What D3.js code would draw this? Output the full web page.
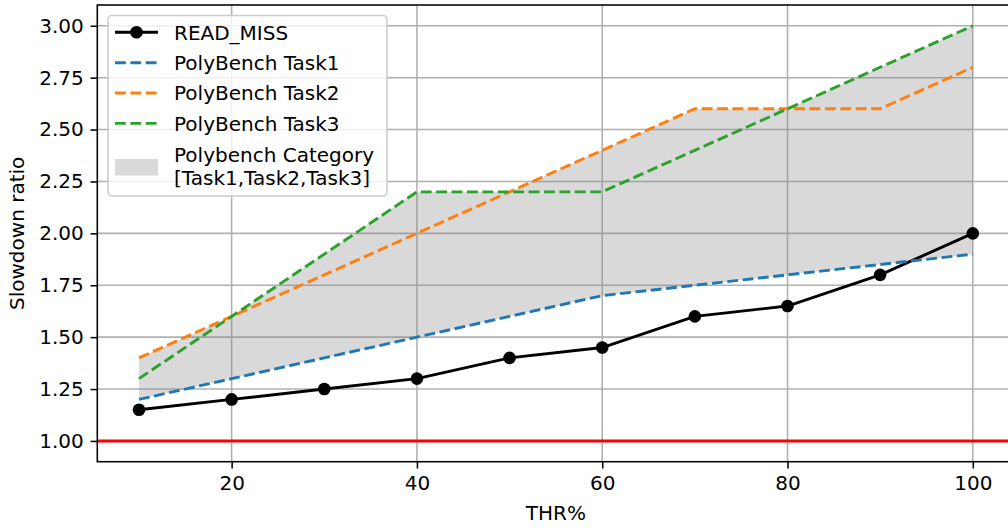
<!DOCTYPE html>
<html>
<head>
<meta charset="utf-8">
<script src="https://cdn.jsdelivr.net/npm/d3@7"></script>
<style>
  body { margin: 0; background: #fff; }
  svg { display: block; font-family: "DejaVu Sans", sans-serif; }
</style>
</head>
<body>
<svg id="chart"></svg>
<script>
// data
var thr = [10, 20, 30, 40, 50, 60, 70, 80, 90, 100];
var readMiss = [1.15, 1.20, 1.25, 1.30, 1.40, 1.45, 1.60, 1.65, 1.80, 2.00];
var task1 = [1.20, 1.30, 1.40, 1.50, 1.60, 1.70, 1.75, 1.80, 1.85, 1.90];
var task2 = [1.40, 1.60, 1.80, 2.00, 2.20, 2.40, 2.60, 2.60, 2.60, 2.80];
var task3 = [1.30, 1.60, 1.90, 2.20, 2.20, 2.20, 2.40, 2.60, 2.80, 3.00];
var xTicks = [20, 40, 60, 80, 100];
var yTicks = [1.00, 1.25, 1.50, 1.75, 2.00, 2.25, 2.50, 2.75, 3.00];

//UI configuration (note: "top" is taken by window.top, so use a margin object)
var width = 1008, height = 528,
    box = { left: 97.3, right: 1014.5, top: 5, bottom: 461.7 },
    fs = 20;

var svg = d3.select('#chart').attr('width', width).attr('height', height);

var x = d3.scaleLinear().domain([5.5, 104.5]).range([box.left, box.right]);
var y = d3.scaleLinear().domain([0.9, 3.1]).range([box.bottom, box.top]);

svg.append('clipPath').attr('id', 'clip')
    .append('rect').attr('x', box.left).attr('y', box.top)
    .attr('width', box.right - box.left).attr('height', box.bottom - box.top);

var plot = svg.append('g').attr('clip-path', 'url(#clip)');

// grid
plot.selectAll('.gx').data(xTicks).enter().append('line')
    .attr('x1', function (d) { return x(d); }).attr('x2', function (d) { return x(d); })
    .attr('y1', box.top).attr('y2', box.bottom)
    .attr('stroke', '#b0b0b0').attr('stroke-width', 1.55);
plot.selectAll('.gy').data(yTicks).enter().append('line')
    .attr('y1', function (d) { return y(d); }).attr('y2', function (d) { return y(d); })
    .attr('x1', box.left).attr('x2', box.right)
    .attr('stroke', '#b0b0b0').attr('stroke-width', 1.55);

// category band
var band = thr.map(function (t, i) {
    var v = [task1[i], task2[i], task3[i]];
    return { x: t, lo: d3.min(v), hi: d3.max(v) };
});
plot.append('path').datum(band)
    .attr('d', d3.area().x(function (d) { return x(d.x); })
        .y0(function (d) { return y(d.lo); }).y1(function (d) { return y(d.hi); }))
    .attr('fill', 'gray').attr('fill-opacity', 0.3);

// baseline
plot.append('line').attr('x1', box.left).attr('x2', box.right)
    .attr('y1', y(1)).attr('y2', y(1))
    .attr('stroke', '#ff0000').attr('stroke-width', 2.9);

var line = d3.line().x(function (d, i) { return x(thr[i]); }).y(function (d) { return y(d); });
var series = [
    { name: 'PolyBench Task1', values: task1, color: '#1f77b4' },
    { name: 'PolyBench Task2', values: task2, color: '#ff7f0e' },
    { name: 'PolyBench Task3', values: task3, color: '#2ca02c' }
];

plot.append('path').datum(readMiss).attr('d', line)
    .attr('fill', 'none').attr('stroke', '#000').attr('stroke-width', 2.9);
series.forEach(function (s) {
    plot.append('path').datum(s.values).attr('d', line)
        .attr('fill', 'none').attr('stroke', s.color).attr('stroke-width', 2.9)
        .attr('stroke-dasharray', '10.8,4.6');
});
plot.selectAll('.dot').data(readMiss).enter().append('circle')
    .attr('cx', function (d, i) { return x(thr[i]); })
    .attr('cy', function (d) { return y(d); })
    .attr('r', 6.3).attr('fill', '#000');

// axes
var xAxis = svg.append('g').attr('transform', 'translate(0,' + box.bottom + ')')
    .call(d3.axisBottom(x).tickValues(xTicks).tickSize(6.8).tickPadding(7.5).tickFormat(d3.format('d')));
var yAxis = svg.append('g').attr('transform', 'translate(' + box.left + ',0)')
    .call(d3.axisLeft(y).tickValues(yTicks).tickSize(6.8).tickPadding(6.8).tickFormat(d3.format('.2f')));
[xAxis, yAxis].forEach(function (a) {
    a.select('.domain').remove();
    a.selectAll('line').attr('stroke', '#000').attr('stroke-width', 1.55);
    a.selectAll('text').attr('font-size', fs).attr('font-family', 'DejaVu Sans').attr('fill', '#000');
});

// spines
svg.append('rect').attr('x', box.left).attr('y', box.top)
    .attr('width', box.right - box.left).attr('height', box.bottom - box.top)
    .attr('fill', 'none').attr('stroke', '#000').attr('stroke-width', 1.55);

// labels
svg.append('text').attr('x', (box.left + box.right) / 2).attr('y', 520)
    .attr('text-anchor', 'middle').attr('font-size', fs).text('THR%');
svg.append('text').attr('transform', 'translate(24,' + ((box.top + box.bottom) / 2) + ') rotate(-90)')
    .attr('text-anchor', 'middle').attr('font-size', fs).text('Slowdown ratio');

// legend
var lg = svg.append('g');
lg.append('rect').attr('x', 108).attr('y', 15.5).attr('width', 279).attr('height', 180.5)
    .attr('rx', 4).attr('fill', '#fff').attr('fill-opacity', 0.8)
    .attr('stroke', '#cccccc').attr('stroke-width', 1.55);

var hx0 = 115, hx1 = 158, tx = 174;
var rows = [
    { label: 'READ_MISS', color: '#000', dash: null, marker: true, cy: 32.3 },
    { label: series[0].name, color: series[0].color, dash: '10.8,4.6', cy: 62.7 },
    { label: series[1].name, color: series[1].color, dash: '10.8,4.6', cy: 93 },
    { label: series[2].name, color: series[2].color, dash: '10.8,4.6', cy: 123.4 }
];
rows.forEach(function (r) {
    lg.append('line').attr('x1', hx0).attr('x2', hx1).attr('y1', r.cy).attr('y2', r.cy)
        .attr('stroke', r.color).attr('stroke-width', 2.9)
        .attr('stroke-dasharray', r.dash);
    if (r.marker) {
        lg.append('circle').attr('cx', (hx0 + hx1) / 2).attr('cy', r.cy).attr('r', 6.3).attr('fill', '#000');
    }
    lg.append('text').attr('x', tx).attr('y', r.cy).attr('dy', '0.36em')
        .attr('font-size', fs).text(r.label);
});
lg.append('rect').attr('x', hx0).attr('y', 159).attr('width', hx1 - hx0).attr('height', 16.5)
    .attr('fill', 'gray').attr('fill-opacity', 0.3);
lg.append('text').attr('x', tx).attr('y', 155).attr('dy', '0.36em').attr('font-size', fs).text('Polybench Category');
lg.append('text').attr('x', tx).attr('y', 177.5).attr('dy', '0.36em').attr('font-size', fs).text('[Task1,Task2,Task3]');
</script>
</body>
</html>
